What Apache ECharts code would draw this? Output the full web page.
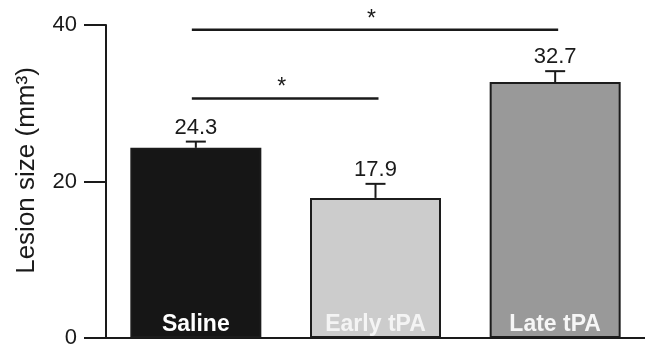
<!DOCTYPE html>
<html>
<head>
<meta charset="utf-8">
<script src="https://cdn.jsdelivr.net/npm/echarts@6/dist/echarts.min.js"></script>
<style>
html,body{margin:0;padding:0;background:#fff;}
#chart{width:645px;height:349px;}
</style>
</head>
<body>
<div id="chart"></div>
<script>
const categories = ['Saline', 'Early tPA', 'Late tPA'];
const values = [24.3, 17.9, 32.7];
const errors = [0.8, 1.8, 1.4];
const yTicks = [0, 20, 40];
// significance brackets: [fromIndex, toIndex, level (y value)]
const brackets = [[0, 2, 39.4], [0, 1, 30.6]];
const bracketMarks = ['*', '*'];

const barColors = ['#161616', '#cccccc', '#999999'];
const labelColors = ['#ffffff', '#f4f4f4', '#f6f6f6'];
const FONT = '"Liberation Sans", Arial, Helvetica, sans-serif';
const INK = '#1a1a1a';

const chart = echarts.init(document.getElementById('chart'), null, {renderer: 'canvas'});

const option = {
  animation: false,
  backgroundColor: '#ffffff',
  grid: {left: 106, right: 0, top: 25, bottom: 4, containLabel: false},
  xAxis: {
    type: 'category',
    data: categories,
    axisLine: {show: true, lineStyle: {color: INK, width: 2}},
    axisTick: {show: false},
    axisLabel: {show: false},
    splitLine: {show: false}
  },
  yAxis: {
    type: 'value',
    min: yTicks[0],
    max: yTicks[yTicks.length - 1],
    interval: yTicks[1] - yTicks[0],
    name: 'Lesion size (mm³)',
    nameLocation: 'middle',
    nameGap: 66,
    nameRotate: 90,
    nameTextStyle: {fontFamily: FONT, fontSize: 26, color: INK, padding: [0, 0, 0, 22]},
    axisLine: {show: true, lineStyle: {color: INK, width: 2}},
    axisTick: {show: true, inside: false, length: 22, lineStyle: {color: INK, width: 2}},
    axisLabel: {margin: 29, fontFamily: FONT, fontSize: 22, color: INK},
    splitLine: {show: false}
  },
  series: [
    {
      type: 'bar',
      barWidth: 131,
      data: values.map((v, i) => ({
        value: v,
        itemStyle: {color: barColors[i], borderColor: '#1c1c1c', borderWidth: 2},
        label: {color: labelColors[i]}
      })),
      label: {
        show: true,
        position: 'insideBottom',
        distance: 2,
        formatter: '{b}',
        fontFamily: FONT,
        fontSize: 23,
        fontWeight: 'bold'
      },
      z: 2
    },
    {
      type: 'custom',
      data: values.map((v, i) => [i, v, errors[i]]),
      renderItem: function (params, api) {
        const x = api.value(0), v = api.value(1), e = api.value(2);
        const base = api.coord([x, v]);
        const top = api.coord([x, v + e]);
        const half = 10;
        return {
          type: 'group',
          children: [
            {type: 'line', shape: {x1: top[0], y1: base[1], x2: top[0], y2: top[1]}, style: {stroke: INK, lineWidth: 2}},
            {type: 'line', shape: {x1: top[0] - half, y1: top[1], x2: top[0] + half, y2: top[1]}, style: {stroke: INK, lineWidth: 2}},
            {type: 'text', x: top[0], y: top[1] - 3, style: {text: v.toFixed(1), fill: INK, font: '22px ' + FONT, align: 'center', verticalAlign: 'bottom'}}
          ]
        };
      },
      z: 3
    },
    {
      type: 'custom',
      data: brackets,
      clip: false,
      renderItem: function (params, api) {
        const a = api.coord([api.value(0), api.value(2)]);
        const b = api.coord([api.value(1), api.value(2)]);
        const mid = (a[0] + b[0]) / 2;
        return {
          type: 'group',
          children: [
            {type: 'line', shape: {x1: a[0] - 4, y1: a[1], x2: b[0] + 3, y2: b[1]}, style: {stroke: INK, lineWidth: 2.5}},
            {type: 'text', x: mid - 4, y: a[1] + 1, style: {text: bracketMarks[params.dataIndex], fill: INK, font: '23px ' + FONT, align: 'center', verticalAlign: 'bottom'}}
          ]
        };
      },
      z: 3
    }
  ]
};
chart.setOption(option);
</script>
</body>
</html>
